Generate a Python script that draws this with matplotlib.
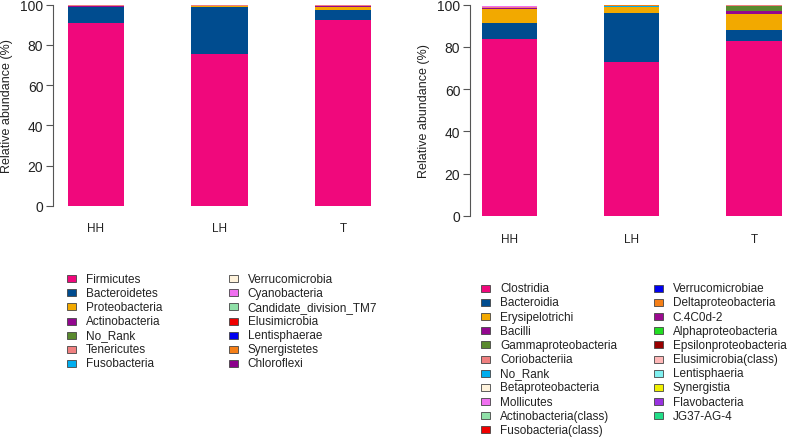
import numpy as np
import matplotlib
matplotlib.use("Agg")
import matplotlib.pyplot as plt
from matplotlib.patches import Rectangle

plt.rcParams['font.family'] = ['Liberation Sans', 'DejaVu Sans']

# ---------- Data ----------
groups = ["HH", "LH", "T"]

phylum_names = ["Firmicutes", "Bacteroidetes", "Proteobacteria", "Actinobacteria",
                "No_Rank", "Tenericutes", "Fusobacteria", "Verrucomicrobia",
                "Cyanobacteria", "Candidate_division_TM7", "Elusimicrobia",
                "Lentisphaerae", "Synergistetes", "Chloroflexi"]
phylum_colors = ["#F0087C", "#004C8F", "#F2A900", "#93078F", "#5A8A2E", "#F08080",
                 "#00AEEF", "#FFF3DC", "#F070F0", "#90E0A8", "#F00000", "#0000F0",
                 "#F57F17", "#8B008B"]
phylum_hh = [90.8, 7.9, 0.4, 0.3, 0.1, 0.3, 0.05, 0.05, 0.03, 0.02, 0.02, 0.01, 0.01, 0.01]
phylum_lh = [75.5, 23.5, 0.3, 0.1, 0.1, 0.4, 0.03, 0.02, 0.02, 0.01, 0.01, 0.01, 0.0, 0.0]
phylum_t = [92.5, 4.9, 1.3, 0.6, 0.1, 0.3, 0.05, 0.05, 0.05, 0.05, 0.05, 0.02, 0.02, 0.03]

class_names = ["Clostridia", "Bacteroidia", "Erysipelotrichi", "Bacilli",
               "Gammaproteobacteria", "Coriobacteriia", "No_Rank", "Betaproteobacteria",
               "Mollicutes", "Actinobacteria(class)", "Fusobacteria(class)",
               "Verrucomicrobiae", "Deltaproteobacteria", "C.4C0d-2", "Alphaproteobacteria",
               "Epsilonproteobacteria", "Elusimicrobia(class)", "Lentisphaeria",
               "Synergistia", "Flavobacteria", "JG37-AG-4"]
class_colors = ["#F0087C", "#004C8F", "#F2A900", "#93078F", "#5A8A2E", "#F08080",
                "#00AEEF", "#FFF3DC", "#F070F0", "#90E0A8", "#F00000", "#0000F0",
                "#F57F17", "#9B0A8F", "#22DD22", "#990000", "#FFB8B8", "#80F0F0",
                "#F0F000", "#9932E0", "#22DD88"]
class_hh = [83.7, 7.8, 6.5, 0.3, 0.1, 0.7, 0.02, 0.02, 0.02, 0.02, 0.02, 0.02, 0.02,
            0.01, 0.01, 0.01, 0.01, 0.01, 0.01, 0.0, 0.0]
class_lh = [72.7, 23.5, 2.6, 0.1, 0.05, 0.1, 0.5, 0.02, 0.02, 0.01, 0.01, 0.01, 0.01,
            0.0, 0.0, 0.0, 0.0, 0.0, 0.0, 0.0, 0.0]
class_t = [82.9, 5.1, 7.7, 1.3, 2.2, 0.9, 0.1, 0.05, 0.05, 0.03, 0.03, 0.02, 0.02,
           0.02, 0.01, 0.01, 0.02, 0.15, 0.01, 0.01, 0.01]

W, H = 787, 439
fig = plt.figure(figsize=(W / 100, H / 100), dpi=100)


def px_axes(x0, x1, ytop, ybot):
    return fig.add_axes([x0 / W, (H - ybot) / H, (x1 - x0) / W, (ybot - ytop) / H])


def stacked(ax, values, colors, xlim, label_off):
    data = np.array(values)  # groups x taxa
    x = np.arange(len(groups))
    bottom = np.zeros(len(groups))
    for j in range(data.shape[1]):
        ax.bar(x, data[:, j], bottom=bottom, width=0.454, color=colors[j],
               edgecolor='none', linewidth=0)
        bottom += data[:, j]
    ax.set_xlim(*xlim)
    ax.set_ylim(0, 100)
    for s in ['top', 'right', 'bottom']:
        ax.spines[s].set_visible(False)
    ax.spines['left'].set_bounds(0, 100)
    ax.spines['left'].set_color('#555555')
    ax.spines['left'].set_linewidth(0.8)
    ax.set_yticks([0, 20, 40, 60, 80, 100])
    ax.tick_params(axis='y', length=5, width=0.8, color='#555555', labelsize=10,
                   labelcolor='#222222', pad=2)
    ax.set_xticks([])
    ax.set_ylabel("Relative abundance (%)", fontsize=9, color='#222222', labelpad=5)
    for i, g in enumerate(groups):
        ax.text(i, label_off, g, transform=ax.get_xaxis_transform(), ha='center',
                va='center', fontsize=8.5, color='#222222', clip_on=False)


def legend(names, colors, nrows, col_sq, col_tx, y0, dy):
    for k, (n, c) in enumerate(zip(names, colors)):
        col, row = divmod(k, nrows)
        yc = y0 + row * dy
        sx = col_sq[col]
        fig.add_artist(Rectangle(((sx - 4.5) / W, (H - yc - 3.5) / H), 9 / W, 7 / H,
                                 transform=fig.transFigure, facecolor=c,
                                 edgecolor='#444444', linewidth=0.6))
        fig.text(col_tx[col] / W, (H - yc) / H, n, ha='left', va='center',
                 fontsize=8.5, color='#222222')


# ---------- Left panel (phylum) ----------
axl = px_axes(53, 390, 5.7, 206.7)
stacked(axl, [phylum_hh, phylum_lh, phylum_t], phylum_colors, (-0.348, 2.38), -22.5 / 201)

# ---------- Right panel (class) ----------
axr = px_axes(470, 787, 5.7, 216.7)
stacked(axr, [class_hh, class_lh, class_t], class_colors, (-0.322, 2.27), -23.5 / 211)

# ---------- Legends ----------
legend(phylum_names, phylum_colors, 7, [71, 233], [86, 247.7], 279.8, 14.07)
legend(class_names, class_colors, 11, [486, 658], [500, 672.7], 289.2, 14.17)

fig.savefig("out.png", dpi=100)
